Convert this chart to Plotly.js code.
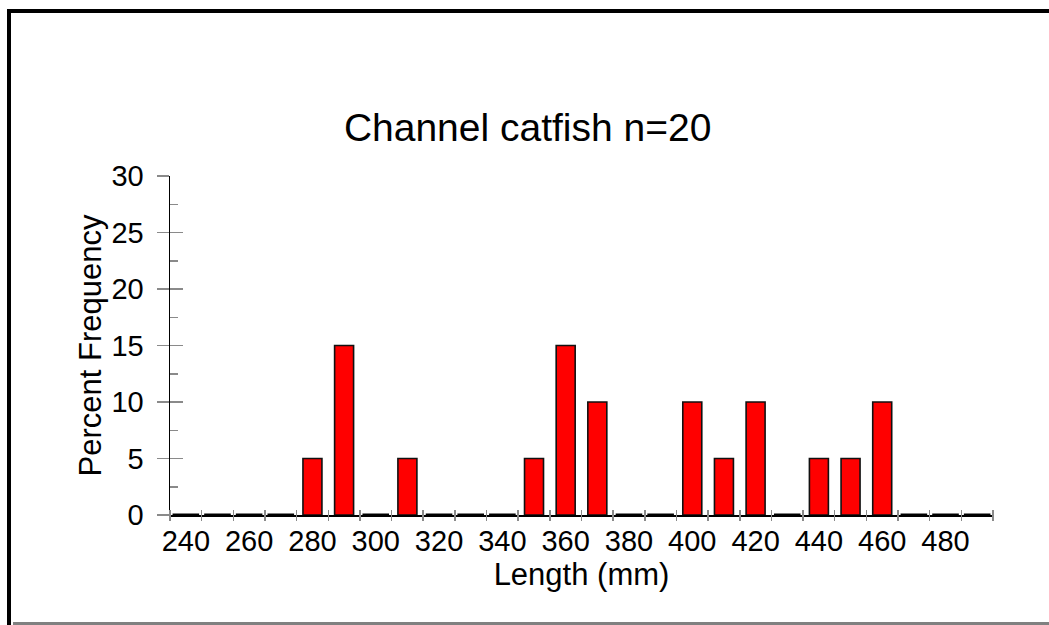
<!DOCTYPE html>
<html>
<head>
<meta charset="utf-8">
<script src="https://cdn.plot.ly/plotly-3.0.1.min.js"></script>
<style>
  html, body { margin: 0; padding: 0; background: #fff; overflow: hidden; }
  #chart { position: absolute; left: 0; top: 0; width: 1049px; height: 625px; }
  .frame-left { position: absolute; left: 7px; top: 9px; width: 4px; height: 616px; background: #000; }
  .frame-top { position: absolute; left: 7px; top: 9px; width: 1042px; height: 4px; background: #000; }
  .frame-bottom { position: absolute; left: 13px; top: 622px; width: 1036px; height: 3px; background: #808080; }
</style>
</head>
<body>
<div id="chart"></div>
<div class="frame-left"></div>
<div class="frame-top"></div>
<div class="frame-bottom"></div>
<script>
// Length bins (mm), bin centres
const lengths = [240, 250, 260, 270, 280, 290, 300, 310, 320, 330, 340, 350, 360,
                 370, 380, 390, 400, 410, 420, 430, 440, 450, 460, 470, 480, 490];
// Percent frequency per bin
const percents = [0, 0, 0, 0, 5, 15, 0, 5, 0, 0, 0, 5, 15,
                  10, 0, 0, 10, 5, 10, 0, 5, 5, 10, 0, 0, 0];
// Tick labels on x axis
const xTickLabels = [240, 260, 280, 300, 320, 340, 360, 380, 400, 420, 440, 460, 480];
// Bin edges (tick marks)
const binEdges = [235, 245, 255, 265, 275, 285, 295, 305, 315, 325, 335, 345, 355, 365,
                  375, 385, 395, 405, 415, 425, 435, 445, 455, 465, 475, 485, 495];
const titleText = "Channel catfish n=20";
const xTitle = "Length (mm)";
const yTitle = "Percent Frequency";

const xRange = [235, 495];
const yRange = [0, 30];

const zeroX = lengths.filter((v, i) => percents[i] === 0);
const zeroY = percents.filter(v => v === 0);

const font = "Liberation Sans, Arial, sans-serif";
const plotH = 625 - 176 - 110;

const traces = [
  {
    type: 'bar',
    x: lengths,
    y: percents,
    marker: { color: '#ff0000', line: { color: '#111', width: 1.6 } },
    hoverinfo: 'x+y',
    xaxis: 'x', yaxis: 'y'
  },
  {
    type: 'scatter',
    mode: 'markers',
    x: zeroX,
    y: zeroY,
    marker: { symbol: 'line-ew-open', size: 19, color: '#000', line: { color: '#000', width: 3 } },
    cliponaxis: false,
    hoverinfo: 'skip',
    xaxis: 'x2', yaxis: 'y2'
  }
];

const layout = {
  width: 1049, height: 625,
  margin: { l: 170, r: 56, t: 176, b: 110, pad: 0 },
  paper_bgcolor: '#fff', plot_bgcolor: '#fff',
  showlegend: false,
  bargap: 0.4,
  font: { family: font, color: '#000', size: 29 },
  title: {
    text: titleText,
    font: { family: font, size: 39, color: '#000' },
    x: 0.503, xref: 'container', xanchor: 'center',
    y: 1 - 127 / 625, yref: 'container', yanchor: 'middle'
  },
  xaxis: {
    range: xRange, fixedrange: true,
    tickmode: 'array', tickvals: xTickLabels, ticktext: xTickLabels.map(String),
    ticks: '', ticklabelstandoff: 0,
    tickfont: { family: font, size: 29, color: '#000' },
    title: { text: xTitle, font: { family: font, size: 31, color: '#000' }, standoff: 5 },
    showline: true, linecolor: '#000', linewidth: 1.5,
    showgrid: false, zeroline: false
  },
  xaxis2: {
    overlaying: 'x', anchor: 'free', position: 6 / plotH, side: 'bottom',
    range: xRange, fixedrange: true,
    tickmode: 'array', tickvals: binEdges,
    showticklabels: false,
    ticks: 'outside', ticklen: 11, tickwidth: 1.5, tickcolor: '#8a8a8a',
    showline: false, showgrid: false, zeroline: false
  },
  yaxis: {
    range: yRange, fixedrange: true,
    tickmode: 'linear', tick0: 0, dtick: 5,
    ticks: 'outside', ticklen: 12, tickwidth: 1.5, tickcolor: '#8a8a8a',
    ticklabelstandoff: 7,
    tickfont: { family: font, size: 29, color: '#000' },
    title: { text: yTitle, font: { family: font, size: 31, color: '#000' }, standoff: 0 },
    showline: true, linecolor: '#000', linewidth: 1.5,
    showgrid: false, zeroline: false
  },
  yaxis2: {
    overlaying: 'y', anchor: 'x', side: 'left',
    range: yRange, fixedrange: true,
    tickmode: 'linear', tick0: 0, dtick: 5,
    ticks: 'inside', ticklen: 13, tickwidth: 1.5, tickcolor: '#8a8a8a',
    minor: { tick0: 0, dtick: 2.5, ticks: 'inside', ticklen: 8, tickwidth: 1.5, tickcolor: '#8a8a8a' },
    showticklabels: false,
    showline: false, showgrid: false, zeroline: false
  }
};

Plotly.newPlot('chart', traces, layout, { displayModeBar: false, staticPlot: true });
</script>
</body>
</html>
